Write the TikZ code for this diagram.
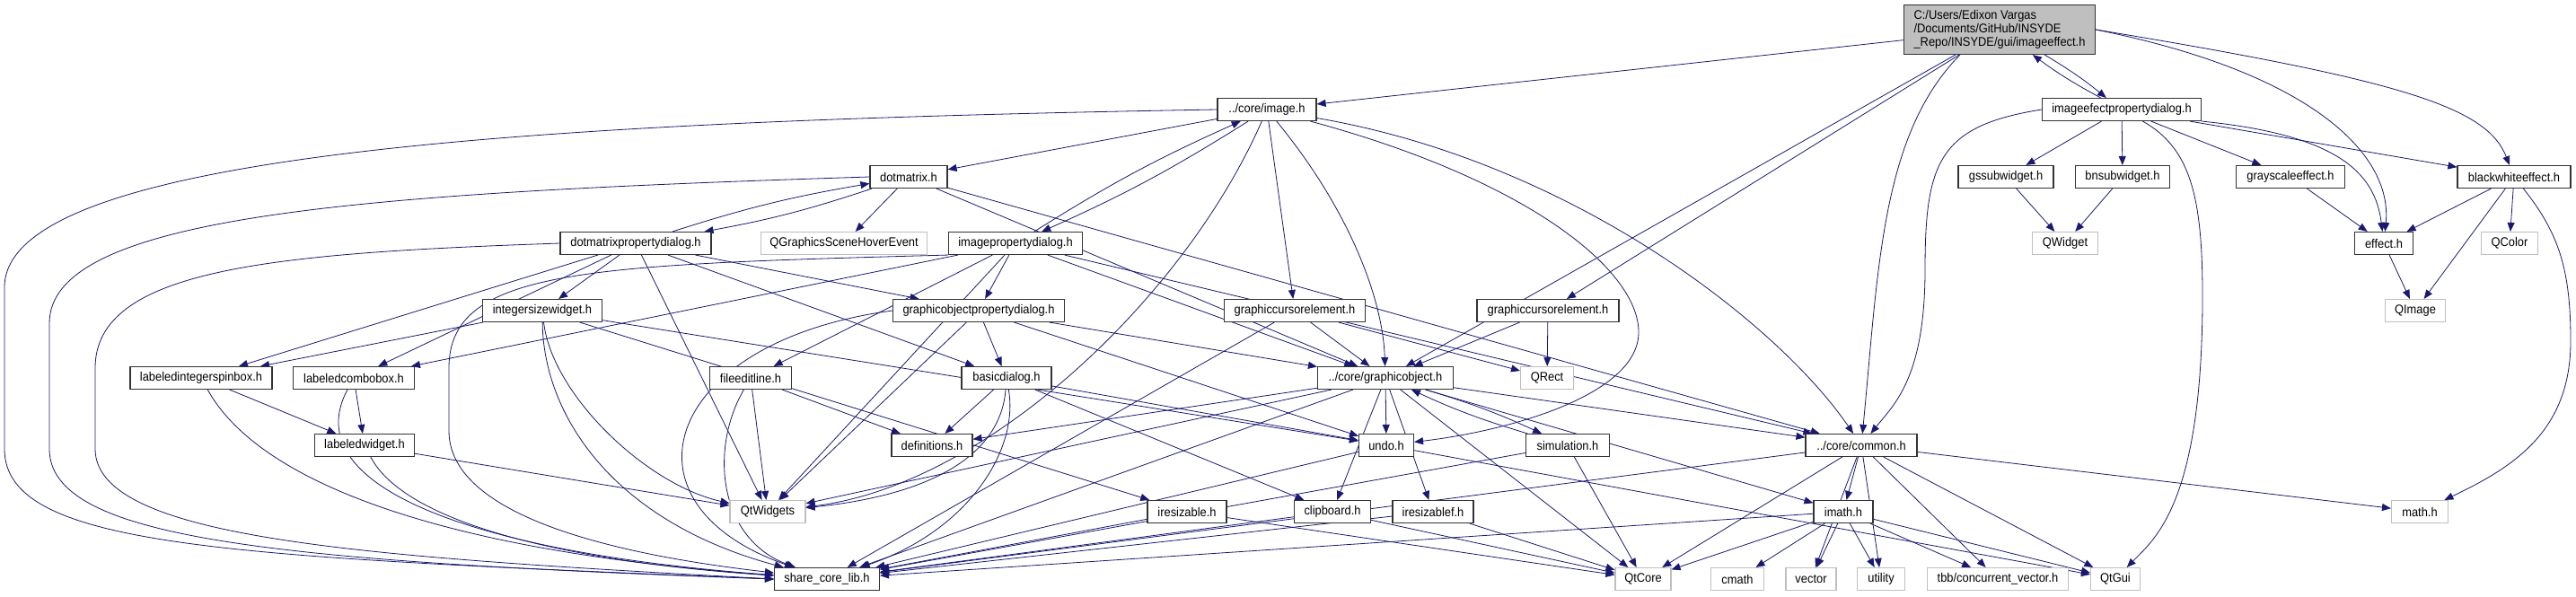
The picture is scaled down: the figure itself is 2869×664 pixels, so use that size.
\documentclass[tikz,border=0pt]{standalone}
\usepackage{fontspec}
\newfontfamily\doxfont[FakeStretch=0.92]{Liberation Sans}
\usetikzlibrary{arrows.meta, backgrounds}
\definecolor{EdgeBlue}{rgb}{0.1, 0.1, 0.44}
\definecolor{ExtGray}{rgb}{0.75, 0.75, 0.75}
\definecolor{RootGray}{rgb}{0.75, 0.75, 0.75}

\begin{document}
\begin{tikzpicture}[
    x=1pt, y=-1pt,
    font=\doxfont\fontsize{14}{15}\selectfont,
    hdr/.style={draw=black!80, line width=1.1pt, fill=white, inner sep=0pt,
        minimum height=25pt},
    ext/.style={hdr, draw=ExtGray},
    rootbox/.style={hdr, fill=RootGray, minimum height=55pt, align=left},
    dep/.style={-{Triangle[length=10pt, width=8pt]}, line width=0.8pt, EdgeBlue},
]
\useasboundingbox (0,0) rectangle (2869,664);

% file itself
\node[rootbox, minimum width=213pt] (root) at (2227,33)
    {C:/Users/Edixon Vargas\\/Documents/GitHub/INSYDE\\\_Repo/INSYDE/gui/imageeffect.h};

% first level
\node[hdr, minimum width=110pt] (img) at (1411,122) {../core/image.h};
\node[hdr, minimum width=177pt] (iepd) at (2363,122) {imageefectpropertydialog.h};

% second level
\node[hdr, minimum width=86pt] (dm) at (1012,197) {dotmatrix.h};
\node[hdr, minimum width=106pt] (gss) at (2234,197) {gssubwidget.h};
\node[hdr, minimum width=105pt] (bns) at (2364,197) {bnsubwidget.h};
\node[hdr, minimum width=121pt] (gray) at (2551,197) {grayscaleeffect.h};
\node[hdr, minimum width=126pt] (bw) at (2800,197) {blackwhiteeffect.h};

% dialogs
\node[hdr, minimum width=168pt] (dmpd) at (708,271) {dotmatrixpropertydialog.h};
\node[ext, minimum width=185pt] (qgshe) at (940,271) {QGraphicsSceneHoverEvent};
\node[hdr, minimum width=149pt] (ipd) at (1131,271) {imagepropertydialog.h};
\node[ext, minimum width=73pt] (qwidget) at (2300,271) {QWidget};
\node[hdr, minimum width=65pt] (effect) at (2655,271) {effect.h};
\node[ext, minimum width=63pt] (qcolor) at (2795,271) {QColor};

\node[hdr, minimum width=133pt] (isw) at (604,346) {integersizewidget.h};
\node[hdr, minimum width=191pt] (gopd) at (1090,346) {graphicobjectpropertydialog.h};
\node[hdr, minimum width=157pt] (gce1) at (1442,346) {graphiccursorelement.h};
\node[hdr, minimum width=158pt] (gce2) at (1724,346) {graphiccursorelement.h};
\node[ext, minimum width=67pt] (qimage) at (2690,346) {QImage};

% widgets and core
\node[hdr, minimum width=158pt] (lisb) at (224,421) {labeledintegerspinbox.h};
\node[hdr, minimum width=135pt] (lcb) at (394,421) {labeledcombobox.h};
\node[hdr, minimum width=91pt] (fel) at (836,421) {fileeditline.h};
\node[hdr, minimum width=100pt] (bd) at (1121,421) {basicdialog.h};
\node[hdr, minimum width=151pt] (go) at (1543,421) {../core/graphicobject.h};
\node[ext, minimum width=59pt] (qrect) at (1723,421) {QRect};

\node[hdr, minimum width=111pt] (lw) at (406,496) {labeledwidget.h};
\node[hdr, minimum width=90pt] (defs) at (1038,496) {definitions.h};
\node[hdr, minimum width=61pt] (undo) at (1544,496) {undo.h};
\node[hdr, minimum width=93pt] (sim) at (1746,496) {simulation.h};
\node[hdr, minimum width=124pt] (common) at (2073,496) {../core/common.h};

\node[ext, minimum width=84pt] (qtwidgets) at (855,570) {QtWidgets};
\node[hdr, minimum width=88pt] (iresz) at (1322,570) {iresizable.h};
\node[hdr, minimum width=85pt] (clip) at (1484,570) {clipboard.h};
\node[hdr, minimum width=90pt] (ireszf) at (1596,570) {iresizablef.h};
\node[hdr, minimum width=66pt] (imath) at (2053,570) {imath.h};
\node[ext, minimum width=63pt] (math) at (2695,570) {math.h};

% bottom row
\node[hdr, minimum width=117pt] (scl) at (921,645) {share\_core\_lib.h};
\node[ext, minimum width=62pt] (qtcore) at (1830,645) {QtCore};
\node[ext, minimum width=59pt] (cmath) at (1935,645) {cmath};
\node[ext, minimum width=56pt] (vector) at (2017,645) {vector};
\node[ext, minimum width=53pt] (utility) at (2095,645) {utility};
\node[ext, minimum width=157pt] (tbb) at (2225,645) {tbb/concurrent\_vector.h};
\node[ext, minimum width=55pt] (qtgui) at (2356,645) {QtGui};

\begin{scope}[on background layer]
% effects side
\foreach \a/\b in {root/img, root/go, root/gce2,
    iepd/gss, iepd/bns, iepd/gray, iepd/bw,
    gss/qwidget, bns/qwidget, gray/effect, bw/effect, bw/qcolor, bw/qimage,
    effect/qimage}
    \draw[dep] (\a) -- (\b);

% dialogs and widgets
\foreach \a/\b in {img/dm, img/gce1, dm/qgshe, dm/common, dm/go,
    dmpd/lisb, dmpd/lcb, dmpd/isw, dmpd/qtwidgets, dmpd/bd, dmpd/gopd,
    isw/lisb, isw/iresz, isw/undo, lisb/lw, lcb/lw, lw/qtwidgets,
    ipd/gopd, ipd/fel, ipd/lcb, ipd/qtwidgets, ipd/go, ipd/common,
    gopd/bd, gopd/go, gopd/qtwidgets, gopd/undo,
    bd/defs, bd/clip, bd/undo, fel/defs, fel/qtwidgets}
    \draw[dep] (\a) -- (\b);

% core
\foreach \a/\b in {go/defs, go/qtwidgets, go/scl, go/undo, go/clip, go/ireszf,
    go/common, go/imath, go/qtcore, sim/qtcore, sim/scl, undo/scl, undo/qtgui,
    clip/scl, clip/qtcore, iresz/scl, iresz/qtcore, ireszf/scl, ireszf/qtcore,
    gce1/go, gce1/qrect, gce1/scl, gce2/go, gce2/qrect,
    common/scl, common/qtcore, common/imath, common/vector, common/utility,
    common/tbb, common/qtgui, common/math,
    imath/scl, imath/qtcore, imath/cmath, imath/vector, imath/utility,
    imath/tbb, imath/qtgui}
    \draw[dep] (\a) -- (\b);

% mutual includes
\foreach \a/\b in {root/iepd, iepd/root, dm/dmpd, dmpd/dm, img/ipd, ipd/img,
    go/sim, sim/go}
    \draw[dep] (\a) to[bend left=4] (\b);

% loops round the left
\draw[dep] (img.west) .. controls (600,135) and (5,170) .. (5,320) -- (5,500)
    .. controls (5,610) and (250,620) .. (scl.west);
\draw[dep] (dm.west) .. controls (400,215) and (55,240) .. (55,360) -- (55,500)
    .. controls (55,600) and (300,625) .. (scl.west);
\draw[dep] (dmpd.west) .. controls (300,282) and (106,300) .. (106,410) -- (106,500)
    .. controls (106,600) and (400,620) .. (scl.west);
\draw[dep] (ipd.south west) .. controls (650,295) and (500,300) .. (500,410) -- (500,480)
    .. controls (500,590) and (750,625) .. (scl);
\draw[dep] (lisb) .. controls (290,540) and (500,615) .. (scl);
\draw[dep] (lcb) .. controls (330,540) and (520,615) .. (scl);
\draw[dep] (lw) .. controls (450,580) and (620,625) .. (scl);
\draw[dep] (isw) .. controls (605,460) and (680,580) .. (scl);
\draw[dep] (isw) .. controls (615,440) and (720,540) .. (qtwidgets);
\draw[dep] (gopd.west) .. controls (740,380) and (680,560) .. (scl);
\draw[dep] (fel) .. controls (790,500) and (800,600) .. (scl);
\draw[dep] (bd) .. controls (1135,500) and (1080,590) .. (scl);
\draw[dep] (bd) .. controls (1115,500) and (1050,550) .. (qtwidgets);

% image.h curves
\draw[dep] (img) .. controls (1700,200) and (1825,300) .. (1825,370)
    .. controls (1825,440) and (1680,480) .. (undo);
\draw[dep] (img) .. controls (1750,180) and (1980,360) .. (common);
\draw[dep] (img) .. controls (1500,230) and (1540,330) .. (go);
\draw[dep] (img) .. controls (1320,330) and (1100,540) .. (qtwidgets);

% right side curves
\draw[dep] ([xshift=-44pt]root.south) .. controls (2095,150) and (2092,300) .. (common);
\draw[dep] (root.east) .. controls (2570,80) and (2665,170) .. (effect);
\draw[dep] (root.east) .. controls (2680,90) and (2770,120) .. (bw);
\draw[dep] (iepd.south east) .. controls (2600,150) and (2645,190) .. (effect);
\draw[dep] (iepd.west) .. controls (2160,140) and (2144,180) .. (2144,300)
    .. controls (2144,420) and (2110,450) .. (common);
\draw[dep] (iepd) .. controls (2440,165) and (2453,220) .. (2453,330)
    .. controls (2453,560) and (2400,600) .. (qtgui);
\draw[dep] (bw) .. controls (2850,260) and (2863,300) .. (2863,380)
    .. controls (2863,480) and (2800,520) .. (math);
\end{scope}

\end{tikzpicture}
\end{document}
